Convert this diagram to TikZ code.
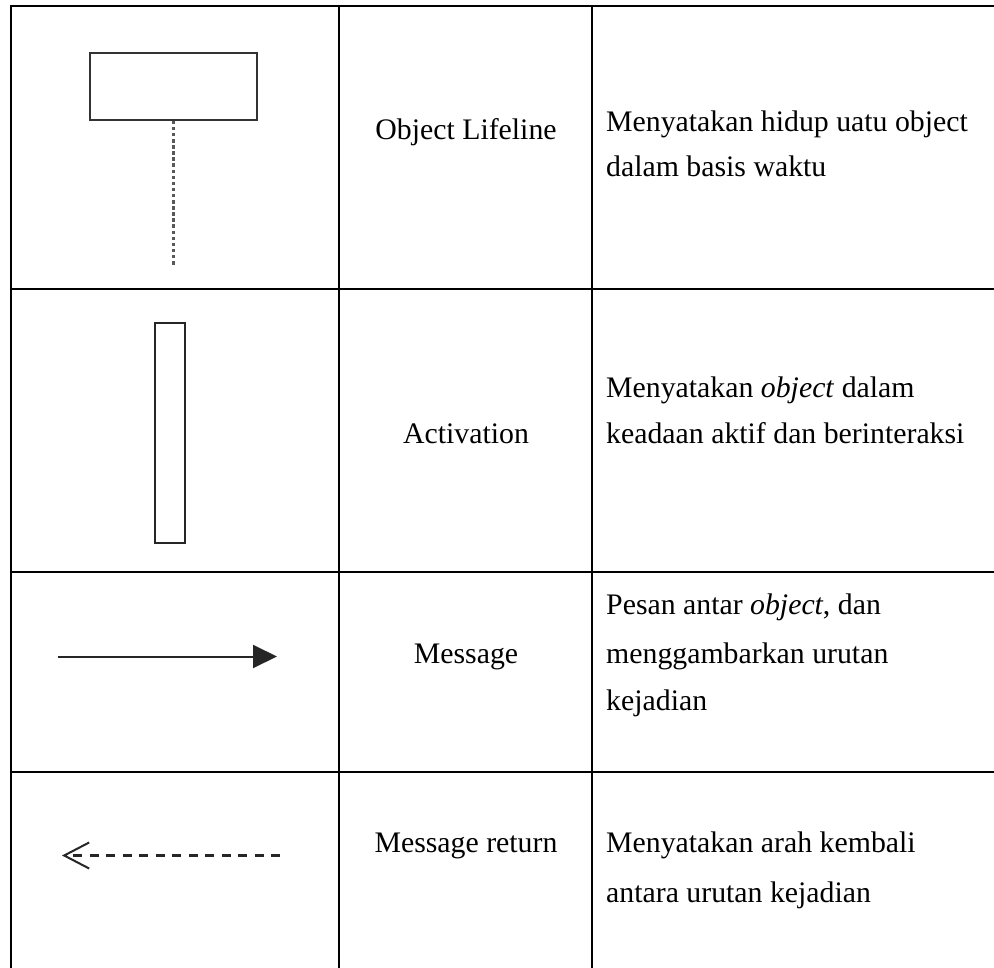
\documentclass[tikz,border=0pt]{standalone}
\usepackage{fontspec}
\setmainfont{Liberation Serif}
\usetikzlibrary{arrows.meta}
\begin{document}
\begin{tikzpicture}[x=1pt,y=-1pt,
  txt/.style={inner sep=0pt, font=\fontsize{29.8}{45}\selectfont, text=black},
  ctxt/.style={txt, anchor=base},
  ltxt/.style={txt, anchor=base west},
  thickrule/.style={line width=2.5pt, black},
  thinrule/.style={line width=1.6pt, black},
  lifebox/.style={draw=black!80, line width=1.5pt, minimum width=167pt, minimum height=67pt, inner sep=0pt},
  lifeline/.style={draw=black!65, line width=2.2pt, dash pattern=on 3.5pt off 2.6pt},
  actbox/.style={draw=black!85, line width=2pt, minimum width=30pt, minimum height=220pt, inner sep=0pt},
  msgline/.style={line width=2pt, black!85, -{Triangle[length=24pt,width=23pt]}},
  retline/.style={line width=2.2pt, black!85, dash pattern=on 9pt off 7.5pt, -{Straight Barb[length=25pt,width=26pt,line width=2pt]}}
]
\useasboundingbox (0,0) rectangle (994,968);
% table grid
\draw[thickrule] (11,968) -- (11,6);
\draw[thickrule] (9.75,6) -- (994,6);
\draw[thickrule] (339,6) -- (339,968);
\draw[thickrule] (592,6) -- (592,968);
\draw[thickrule] (11,289) -- (994,289);
\draw[thinrule] (11,572) -- (994,572);
\draw[thinrule] (11,772) -- (994,772);

% row 1: object lifeline
\node (obj) [lifebox] at (173.5,86.5) {};
\coordinate (lifeend) at (173.5,266);
\draw[lifeline] (obj.south) -- (lifeend);
\node (n1) [ctxt] at (466,140) {Object Lifeline};
\node (d1a) [ltxt] at (606,132) {Menyatakan hidup uatu object};
\node (d1b) [ltxt] at (606,177) {dalam basis waktu};

% row 2: activation
\node (act) [actbox] at (170,433) {};
\node (n2) [ctxt] at (466,443) {Activation};
\node (d2a) [ltxt] at (606,398) {Menyatakan \textit{object} dalam};
\node (d2b) [ltxt] at (606,443) {keadaan aktif dan berinteraksi};

% row 3: message
\coordinate (m1) at (58,656.5);
\coordinate (m2) at (277,656.5);
\draw[msgline] (m1) -- (m2);
\node (n3) [ctxt] at (466,663) {Message};
\node (d3a) [ltxt] at (606,614) {Pesan antar \textit{object}, dan};
\node (d3b) [ltxt] at (606,663) {menggambarkan urutan};
\node (d3c) [ltxt] at (606,710) {kejadian};

% row 4: message return
\coordinate (r1) at (280,855.5);
\coordinate (r2) at (62,855.5);
\draw[retline] (r1) -- (r2);
\node (n4) [ctxt] at (466,852) {Message return};
\node (d4a) [ltxt] at (606,852) {Menyatakan arah kembali};
\node (d4b) [ltxt] at (606,902) {antara urutan kejadian};
\end{tikzpicture}
\end{document}
